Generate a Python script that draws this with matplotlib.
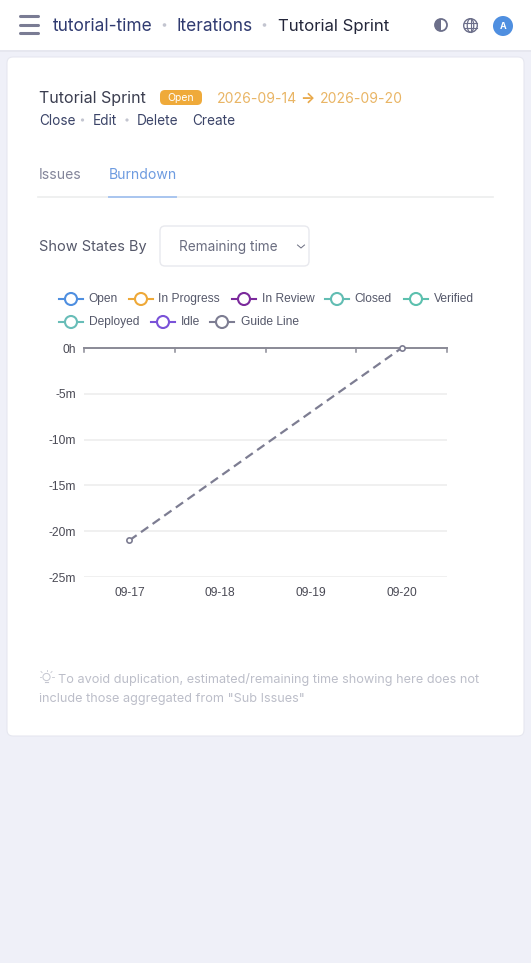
import matplotlib
matplotlib.use('Agg')
import matplotlib.pyplot as plt
from matplotlib.patches import FancyBboxPatch, Rectangle, Circle, Wedge, Ellipse

plt.rcParams['font.family'] = ['Inter', 'DejaVu Sans']

# chart data
dates = ['09-17', '09-18', '09-19', '09-20']
guide_idx = [0, 3]
guide_minutes = [-21, 0]
y_ticks = [0, -5, -10, -15, -20, -25]
y_labels = ['0h', '-5m', '-10m', '-15m', '-20m', '-25m']
states = ['Open', 'In Progress', 'In Review', 'Closed', 'Verified', 'Deployed', 'Idle', 'Guide Line']
state_colors = ['#4f8fe0', '#eea939', '#7b2a9c', '#62bdb3', '#5cc0ae', '#68bdb8', '#7a52d8', '#7d7d92']

W, H = 531, 963
fig = plt.figure(figsize=(W / 100, H / 100), dpi=100, facecolor='#eff0f8')

# whole page overlay in pixel coords
ui = fig.add_axes([0, 0, 1, 1], zorder=0)
ui.set_xlim(0, W)
ui.set_ylim(H, 0)
ui.axis('off')


def px(size):
    return size * 0.72


def label(x, y, s, size=14, color='#2a2e45', **kw):
    kw.setdefault('va', 'center')
    kw.setdefault('ha', 'left')
    ui.text(x, y + 0.8, s, fontsize=px(size), color=color, **kw)


def dot(x, y, r=1.8, color='#c3c5d0'):
    ui.add_patch(Circle((x, y), r, fc=color, ec='none'))


# header
ui.add_patch(Rectangle((0, 0), W, 50, fc='white', ec='none'))
ui.add_patch(Rectangle((0, 50), W, 2, fc='#e6e7ef', ec='none'))
for y in [16.5, 25, 33.5]:
    ui.plot([20, 38], [y, y], color='#7a7c94', lw=2.2, solid_capstyle='round')
label(53, 25.5, 'tutorial-time', 17.3, '#2f3a70')
dot(164.5, 25)
label(177, 25.5, 'Iterations', 17.3, '#2f3a70')
dot(264.5, 25)
label(278, 25.5, 'Tutorial Sprint', 16.8, '#23263a')
ui.add_patch(Circle((441, 25), 6, fc='white', ec='#6c6f8a', lw=1.3))
ui.add_patch(Wedge((441, 25), 6, 90, 270, fc='#6c6f8a', ec='none'))
ui.add_patch(Circle((470.5, 25.5), 6.8, fc='none', ec='#6c6f8a', lw=1))
ui.add_patch(Ellipse((470.5, 25.5), 6.5, 13.6, fc='none', ec='#6c6f8a', lw=0.9))
ui.plot([464, 477], [23, 23], color='#6c6f8a', lw=0.8)
ui.plot([464, 477], [28, 28], color='#6c6f8a', lw=0.8)
ui.plot([470.5, 470.5], [19, 32], color='#6c6f8a', lw=0.8)
ui.add_patch(Circle((503, 26), 10, fc='#4f8fe0', ec='none'))
label(503, 25.5, 'A', 9, 'white', ha='center', fontweight='bold')

# card
ui.add_patch(FancyBboxPatch((7, 57), 517, 679, boxstyle='round,pad=0,rounding_size=6',
                            fc='white', ec='#e6e7f0', lw=0.8))

# title block
label(39, 98, 'Tutorial Sprint', 16, '#3a3d4f')
ui.add_patch(FancyBboxPatch((160, 90), 42, 15, boxstyle='round,pad=0,rounding_size=5',
                            fc='#efaa3a', ec='none'))
label(181, 97, 'Open', 10.5, 'white', ha='center')
label(217, 98, '2026-09-14', 14, '#e9b565')
label(307.5, 97.5, '\u2192', 15, '#e9a94a', ha='center', fontweight='bold')
label(320, 98, '2026-09-20', 14, '#e9b565')
label(39, 120.5, 'Close', 13.6, '#3b4468')
dot(82.5, 120, 1.6)
label(93, 120.5, 'Edit', 13.6, '#3b4468')
dot(127, 120, 1.6)
label(136.5, 120.5, 'Delete', 13.6, '#3b4468')
label(192, 120.5, 'Create', 13.6, '#3b4468')

# tabs
label(39, 174.5, 'Issues', 14, '#83859a')
label(109, 174.5, 'Burndown', 14, '#6d9be0')
ui.plot([38, 493], [197, 197], color='#eceded', lw=1.2)
ui.plot([109, 176], [197, 197], color='#a9c5ef', lw=1.4)

# select
label(39, 246.5, 'Show States By', 14.5, '#55586a')
ui.add_patch(FancyBboxPatch((160, 226), 149, 40, boxstyle='round,pad=0,rounding_size=5',
                            fc='white', ec='#e8e9ee', lw=1))
label(179, 246.5, 'Remaining time', 13.6, '#6a6d80')
ui.plot([297.5, 301, 304.5], [245, 248, 245], color='#6a6d80', lw=0.7)

# legend, echarts wraps it on two rows
legend_pos = [(71, 299), (141, 299), (244, 299), (337, 299), (416, 299),
              (71, 322), (163, 322), (222, 322)]
for name, color, (x, y) in zip(states, state_colors, legend_pos):
    ui.plot([x - 12, x + 12], [y, y], color=color, lw=1.5, zorder=3)
    ui.add_patch(Circle((x, y), 6, fc='white', ec=color, lw=1.5, zorder=4))
    gap = 19 if name == 'Guide Line' else 17.5
    label(x + gap, y - 0.5, name, 12, '#55586a', family='Liberation Sans')

# tip at the bottom
tip_x, tip_y = 46.5, 678
ui.add_patch(Circle((tip_x, tip_y - 1), 3.6, fc='none', ec='#c4c6d0', lw=0.7))
ui.plot([tip_x - 1.5, tip_x + 1.5], [tip_y + 4.5, tip_y + 4.5], color='#c4c6d0', lw=0.8)
for dx, dy in [(-7, 0), (7, 0), (0, -7), (-5.5, -5.5), (5.5, -5.5)]:
    ui.plot([tip_x + dx * 0.8, tip_x + dx], [tip_y - 1 + dy * 0.8, tip_y - 1 + dy], color='#c4c6d0', lw=0.6)
label(58.5, 678.5, 'To avoid duplication, estimated/remaining time showing here does not', 12.7, '#bcbec9')
label(39, 698, 'include those aggregated from "Sub Issues"', 12.7, '#bcbec9')

# burndown chart
left, right, top, bottom = 84, 447, 348, 577
ax = fig.add_axes([left / W, 1 - bottom / H, (right - left) / W, (bottom - top) / H], zorder=2)
ax.patch.set_alpha(0)
ax.set_xlim(-0.5, 3.5)
ax.set_ylim(-25, 0)
for spine in ax.spines.values():
    spine.set_visible(False)
ax.grid(axis='y', color='#eeeeee', lw=1.2)
ax.set_axisbelow(True)
ax.plot(guide_idx, guide_minutes, color='#7d7d92', lw=1.6, ls=(0, (4, 2.4)),
        marker='o', ms=3.8, mfc='white', mec='#7d7d92', mew=1.2, clip_on=False, zorder=5)
ax.set_yticks(y_ticks)
ax.set_yticklabels(y_labels, family='Liberation Sans')
ax.set_xticks(range(len(dates)))
ax.set_xticklabels(dates, family='Liberation Sans')
ax.tick_params(axis='both', length=0, labelsize=px(12), labelcolor='#4a4a55')
ax.tick_params(axis='y', pad=5.5)
ax.tick_params(axis='x', pad=7.5)
# axis line with ticks stays at zero, on top of the plot
for i in range(5):
    ax.plot([i - 0.5, i - 0.5], [0, -0.45], color='#8a8a96', lw=1.1, clip_on=False, zorder=3)
ax.axhline(0, color='#8a8a96', lw=1.4, clip_on=False, zorder=3)

fig.savefig('out.png', dpi=100, facecolor=fig.get_facecolor())
